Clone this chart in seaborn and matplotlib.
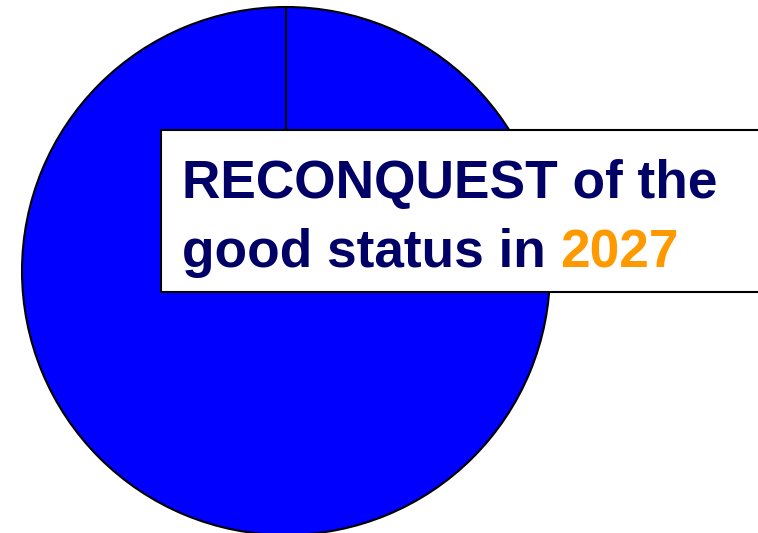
import matplotlib
matplotlib.use("Agg")
import matplotlib.pyplot as plt
from matplotlib.patches import Rectangle
import seaborn as sns

# data
labels = ["Good status"]
values = [100]
pie_colors = ["#0000FF"]
title_line1 = "RECONQUEST of the"
title_line2 = "good status in "
title_year = "2027"

sns.set_theme(style="white")
plt.rcParams['font.family'] = ['Liberation Sans', 'DejaVu Sans']

W, H = 758, 533
fig = plt.figure(figsize=(W / 100, H / 100), dpi=100)
ax = fig.add_axes([0, 0, 1, 1])

cx, cy, r = 286, 271, 264
ax.pie(values, labels=None, colors=pie_colors, center=(cx, cy), radius=r,
       startangle=90, counterclock=False,
       wedgeprops=dict(edgecolor='black', linewidth=1.5), frame=True)
ax.set_xlim(0, W)
ax.set_ylim(H, 0)
ax.set_aspect('equal')
ax.axis('off')
# radial separator line of the single slice
ax.plot([cx, cx], [cy, cy - r], color='black', lw=1.5, zorder=3)

box = Rectangle((161, 130), 700, 162, facecolor='white', edgecolor='black',
                lw=1.5, zorder=5)
ax.add_patch(box)

fs = 38.3
navy = '#000066'
orange = '#FF9900'
ax.text(182, 198, title_line1, fontsize=fs, fontweight='bold', color=navy,
        ha='left', va='baseline', zorder=6)
t2 = ax.text(182, 267, title_line2, fontsize=fs, fontweight='bold', color=navy,
             ha='left', va='baseline', zorder=6)
ax.annotate(title_year, xy=(1, 0), xycoords=t2, fontsize=fs, fontweight='bold',
            color=orange, ha='left', va='bottom', zorder=6)

fig.savefig("out.png", dpi=100)
